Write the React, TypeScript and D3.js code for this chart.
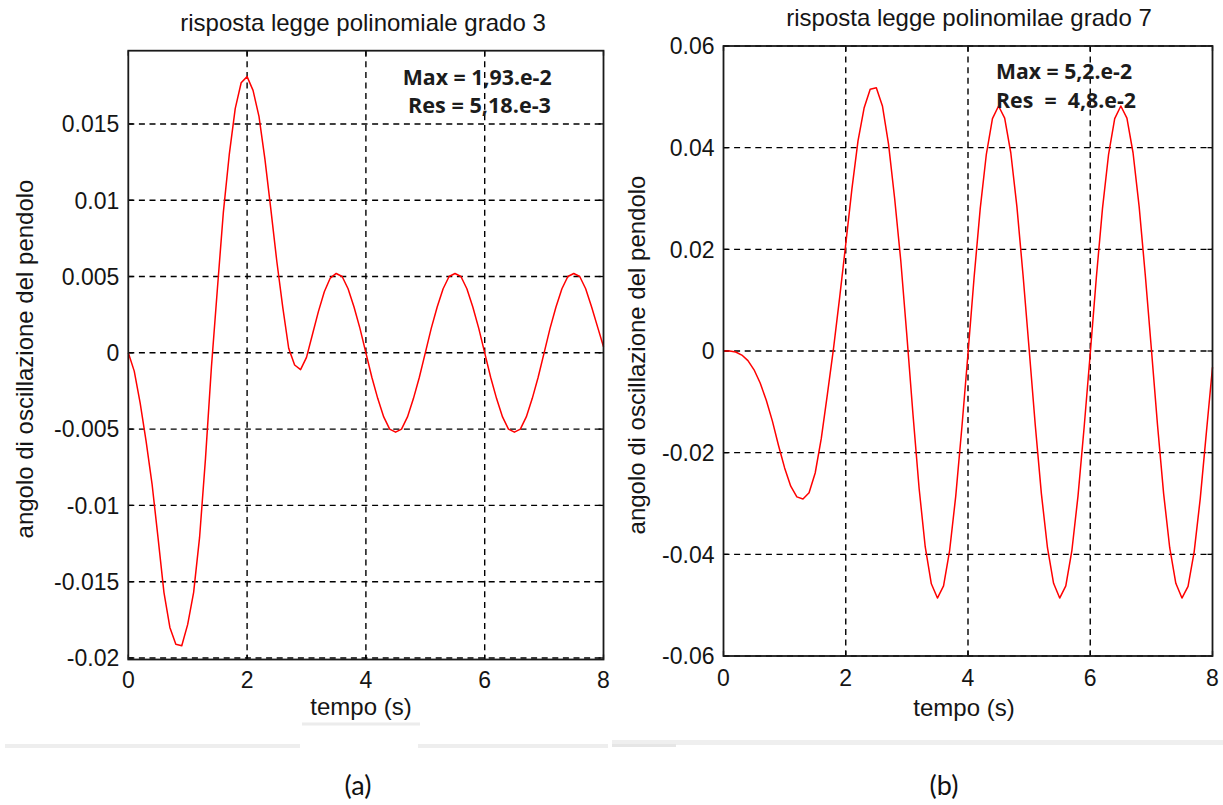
import React from 'react';
import * as d3 from 'd3';

// ---- data ----
const tempo = [
  0, 0.1, 0.2, 0.3, 0.4, 0.5, 0.6, 0.7, 0.8, 0.9,
  1, 1.1, 1.2, 1.3, 1.4, 1.5, 1.6, 1.7, 1.8, 1.9,
  2, 2.1, 2.2, 2.3, 2.4, 2.5, 2.6, 2.7, 2.8, 2.9,
  3, 3.1, 3.2, 3.3, 3.4, 3.5, 3.6, 3.7, 3.8, 3.9,
  4, 4.1, 4.2, 4.3, 4.4, 4.5, 4.6, 4.7, 4.8, 4.9,
  5, 5.1, 5.2, 5.3, 5.4, 5.5, 5.6, 5.7, 5.8, 5.9,
  6, 6.1, 6.2, 6.3, 6.4, 6.5, 6.6, 6.7, 6.8, 6.9,
  7, 7.1, 7.2, 7.3, 7.4, 7.5, 7.6, 7.7, 7.8, 7.9,
  8,
];

const angoloGrado3 = [
  0, -0.0012, -0.0033, -0.0058, -0.0086, -0.0121, -0.0157, -0.018, -0.0191, -0.0192,
  -0.0178, -0.0157, -0.0121, -0.0069, -0.0009, 0.0042, 0.0092, 0.013, 0.016, 0.0177,
  0.0181, 0.0172, 0.0155, 0.0127, 0.0094, 0.006, 0.003, 0.0003, -0.0008, -0.0011,
  -0.0003, 0.0012, 0.0027, 0.004, 0.0049, 0.0052, 0.005, 0.0042, 0.003, 0.0016,
  0, -0.0016, -0.003, -0.0042, -0.005, -0.0052, -0.005, -0.0042, -0.003, -0.0016,
  0, 0.0016, 0.003, 0.0042, 0.005, 0.0052, 0.005, 0.0042, 0.003, 0.0016,
  0, -0.0016, -0.003, -0.0042, -0.005, -0.0052, -0.005, -0.0042, -0.003, -0.0016,
  0, 0.0016, 0.003, 0.0042, 0.005, 0.0052, 0.005, 0.0042, 0.003, 0.0017,
  0.0004,
];

const angoloGrado7 = [
  0, 0, -0.0002, -0.0008, -0.0019, -0.0037, -0.0063, -0.0097, -0.0138, -0.0186,
  -0.023, -0.0266, -0.0287, -0.0291, -0.0279, -0.024, -0.0172, -0.0085, 0.0005, 0.0105,
  0.021, 0.0318, 0.0413, 0.0478, 0.0515, 0.0518, 0.0482, 0.0407, 0.03, 0.0178,
  0.003, -0.0125, -0.027, -0.0385, -0.0458, -0.0486, -0.0462, -0.0392, -0.0285, -0.015,
  -0.0005, 0.0145, 0.028, 0.0387, 0.0457, 0.0482, 0.0458, 0.039, 0.0284, 0.015,
  0.0004, -0.0145, -0.028, -0.0387, -0.0457, -0.0486, -0.0462, -0.0392, -0.0285, -0.015,
  -0.0005, 0.0145, 0.028, 0.0387, 0.0457, 0.0482, 0.0458, 0.039, 0.0284, 0.015,
  0.0004, -0.0145, -0.028, -0.0387, -0.0457, -0.0486, -0.0463, -0.0395, -0.029, -0.016,
  -0.0032,
];

const xTicks = [0, 2, 4, 6, 8];
const xTickLabels = ['0', '2', '4', '6', '8'];
const yTicksGrado3 = [-0.02, -0.015, -0.01, -0.005, 0, 0.005, 0.01, 0.015];
const yTickLabelsGrado3 = ['-0.02', '-0.015', '-0.01', '-0.005', '0', '0.005', '0.01', '0.015'];
const yTicksGrado7 = [-0.06, -0.04, -0.02, 0, 0.02, 0.04, 0.06];
const yTickLabelsGrado7 = ['-0.06', '-0.04', '-0.02', '0', '0.02', '0.04', '0.06'];
const titoli = ['risposta legge polinomiale grado 3', 'risposta legge polinomilae grado 7'];
const noteGrado3 = ['Max = 1,93.e-2', 'Res = 5,18.e-3'];
const noteGrado7 = ['Max = 5,2.e-2', 'Res  =  4,8.e-2'];
const didascalie = ['(a)', '(b)'];
const xLabel = 'tempo (s)';
const yLabel = 'angolo di oscillazione del pendolo';

const FONT = '"Liberation Sans", Arial, Helvetica, sans-serif';
const NOTE_FONT = '"Open Sans", "Liberation Sans", sans-serif';
const CAP_FONT = 'Lato, "Open Sans", sans-serif';
const INK = '#151515';

type PanelProps = {
  box: { left: number; right: number; top: number; bottom: number };
  yDomain: [number, number];
  yTicks: number[];
  yTickLabels: string[];
  values: number[];
  title: string;
  titlePos: [number, number];
  xLabelPos: [number, number];
  yLabelPos: [number, number];
  xTickBaseline: number;
  notes: string[];
  notePos: [number, number][];
  noteWidths: number[];
};

function Panel(p: PanelProps) {
  const { box } = p;
  const x = d3.scaleLinear().domain([0, 8]).range([box.left, box.right]);
  const y = d3.scaleLinear().domain(p.yDomain).range([box.bottom, box.top]);
  const data = tempo.map((t, i) => [t, p.values[i]] as [number, number]);
  const line = d3
    .line<[number, number]>()
    .x((d) => x(d[0]))
    .y((d) => y(d[1]))
    .curve(d3.curveLinear);
  const tick = 5;
  const dash = '6,4.6';
  return (
    <g>
      {/* title */}
      <text x={p.titlePos[0]} y={p.titlePos[1]} textAnchor="middle" fontFamily={FONT} fontSize={24} fill={INK}>
        {p.title}
      </text>
      {/* grid */}
      {xTicks
        .filter((t) => t > 0 && t < 8)
        .map((t) => (
          <line key={'gx' + t} x1={x(t)} x2={x(t)} y1={box.top} y2={box.bottom} stroke="#000" strokeWidth={1.4} strokeDasharray={dash} />
        ))}
      {p.yTicks.map((v) => (
        <line key={'gy' + v} x1={box.left} x2={box.right} y1={y(v)} y2={y(v)} stroke="#000" strokeWidth={1.4} strokeDasharray={dash} />
      ))}
      {/* inward ticks */}
      {xTicks.map((t) => (
        <g key={'tx' + t}>
          <line x1={x(t)} x2={x(t)} y1={box.bottom} y2={box.bottom - tick} stroke="#000" strokeWidth={1.3} />
          <line x1={x(t)} x2={x(t)} y1={box.top} y2={box.top + tick} stroke="#000" strokeWidth={1.3} />
        </g>
      ))}
      {p.yTicks.map((v) => (
        <g key={'ty' + v}>
          <line x1={box.left} x2={box.left + tick} y1={y(v)} y2={y(v)} stroke="#000" strokeWidth={1.3} />
          <line x1={box.right} x2={box.right - tick} y1={y(v)} y2={y(v)} stroke="#000" strokeWidth={1.3} />
        </g>
      ))}
      {/* curve */}
      <path d={line(data) || ''} fill="none" stroke="#ff0000" strokeWidth={1.5} strokeLinejoin="round" />
      {/* frame */}
      <rect x={box.left} y={box.top} width={box.right - box.left} height={box.bottom - box.top} fill="none" stroke="#1a1a1a" strokeWidth={1.8} />
      {/* tick labels */}
      {xTicks.map((t, i) => (
        <text key={'lx' + t} x={x(t)} y={p.xTickBaseline} textAnchor="middle" fontFamily={FONT} fontSize={23} fill={INK}>
          {xTickLabels[i]}
        </text>
      ))}
      {p.yTicks.map((v, i) => (
        <text key={'ly' + v} x={box.left - 9} y={y(v)} dy="0.36em" textAnchor="end" fontFamily={FONT} fontSize={23} fill={INK}>
          {p.yTickLabels[i]}
        </text>
      ))}
      {/* axis labels */}
      <text x={p.xLabelPos[0]} y={p.xLabelPos[1]} textAnchor="middle" fontFamily={FONT} fontSize={24} fill={INK}>
        {xLabel}
      </text>
      <text
        transform={`translate(${p.yLabelPos[0]},${p.yLabelPos[1]}) rotate(-90)`}
        textAnchor="middle"
        fontFamily={FONT}
        fontSize={24}
        fill={INK}
      >
        {yLabel}
      </text>
      {/* notes */}
      {p.notes.map((n, i) => (
        <text
          key={'n' + i}
          x={p.notePos[i][0]}
          y={p.notePos[i][1]}
          fontFamily={NOTE_FONT}
          fontWeight={700}
          fontSize={20.5}
          fill="#1c1c1c"
          textLength={p.noteWidths[i]}
          lengthAdjust="spacingAndGlyphs"
          style={{ whiteSpace: 'pre' }}
        >
          {n}
        </text>
      ))}
    </g>
  );
}

export default function App() {
  return (
    <svg
      width={1223}
      height={805}
      viewBox="0 0 1223 805"
      style={{ position: 'absolute', left: 0, top: 0, background: '#fff' }}
    >
      <rect x={0} y={0} width={1223} height={805} fill="#fff" />
      {/* screenshot strips */}
      <rect x={5} y={744} width={295} height={4} fill="#eeeeee" />
      <rect x={418} y={744} width={190} height={4} fill="#eeeeee" />
      <rect x={302} y={722.5} width={118} height={3} fill="#ececec" />
      <rect x={612} y={740} width={611} height={5} fill="#efefef" />
      <rect x={612} y={744} width={64} height={3} fill="#e6e6e6" />

      <Panel
        box={{ left: 128.3, right: 603.5, top: 50.7, bottom: 659.5 }}
        yDomain={[-0.0201, 0.0198]}
        yTicks={yTicksGrado3}
        yTickLabels={yTickLabelsGrado3}
        values={angoloGrado3}
        title={titoli[0]}
        titlePos={[363, 31]}
        xLabelPos={[361, 715]}
        yLabelPos={[33, 359]}
        xTickBaseline={688}
        notes={noteGrado3}
        notePos={[[402.7, 85], [408, 112.7]]}
        noteWidths={[149, 143]}
      />
      <Panel
        box={{ left: 723.5, right: 1212.5, top: 46, bottom: 656 }}
        yDomain={[-0.06, 0.06]}
        yTicks={yTicksGrado7}
        yTickLabels={yTickLabelsGrado7}
        values={angoloGrado7}
        title={titoli[1]}
        titlePos={[969, 26]}
        xLabelPos={[964, 716]}
        yLabelPos={[645, 355]}
        xTickBaseline={686}
        notes={noteGrado7}
        notePos={[[996, 79.3], [996, 108.3]]}
        noteWidths={[136, 140]}
      />

      <text x={358} y={795} textAnchor="middle" fontFamily={CAP_FONT} fontSize={27} fill="#111">
        {didascalie[0]}
      </text>
      <text x={944} y={795} textAnchor="middle" fontFamily={CAP_FONT} fontSize={27} fill="#111">
        {didascalie[1]}
      </text>
    </svg>
  );
}
